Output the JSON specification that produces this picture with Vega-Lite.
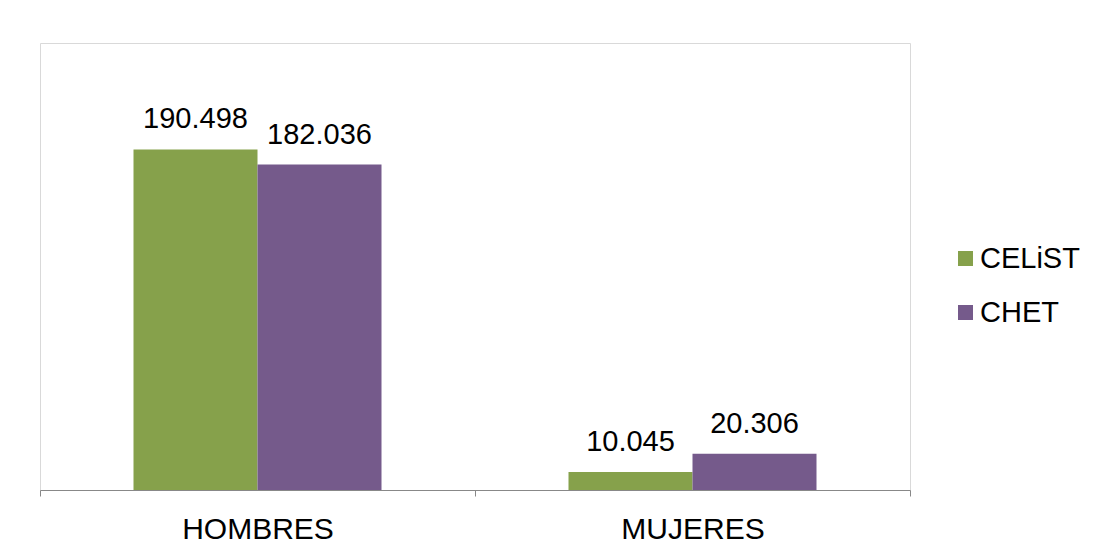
{
  "$schema": "https://vega.github.io/schema/vega-lite/v6.json",
  "width": 870,
  "height": 447,
  "autosize": {"type": "none"},
  "padding": {"left": 40, "top": 43, "right": 195, "bottom": 63},
  "background": "white",
  "config": {
    "locale": {"number": {"decimal": ",", "thousands": ".", "grouping": [3], "currency": ["", " €"]}},
    "view": {"stroke": "#d9d9d9", "strokeWidth": 1},
    "font": "Liberation Sans"
  },
  "data": {
    "values": [
      {"sexo": "HOMBRES", "serie": "CELiST", "valor": 190498},
      {"sexo": "HOMBRES", "serie": "CHET", "valor": 182036},
      {"sexo": "MUJERES", "serie": "CELiST", "valor": 10045},
      {"sexo": "MUJERES", "serie": "CHET", "valor": 20306}
    ]
  },
  "encoding": {
    "x": {
      "field": "sexo", "type": "nominal", "sort": ["HOMBRES", "MUJERES"],
      "scale": {"paddingInner": 0, "paddingOuter": 0},
      "axis": {
        "title": null, "labelAngle": 0, "labelFontSize": 30, "labelColor": "#000000",
        "labelFont": "Liberation Sans", "labelPadding": 18,
        "tickBand": "extent", "tickSize": 6, "tickColor": "#888888",
        "domainColor": "#888888", "grid": false
      }
    },
    "xOffset": {
      "field": "serie", "type": "nominal", "sort": ["CELiST", "CHET"],
      "scale": {"paddingInner": 0, "paddingOuter": 0.754}
    },
    "y": {
      "field": "valor", "type": "quantitative",
      "scale": {"domain": [0, 250000], "nice": false},
      "axis": null
    }
  },
  "layer": [
    {
      "mark": {"type": "bar"},
      "encoding": {
        "color": {
          "field": "serie", "type": "nominal", "sort": ["CELiST", "CHET"],
          "scale": {"domain": ["CELiST", "CHET"], "range": ["#86A14B", "#755A8B"]},
          "legend": {
            "title": null, "orient": "none", "legendX": 911, "legendY": 201,
            "symbolType": "square", "symbolSize": 225, "symbolStrokeWidth": 0,
            "labelFontSize": 29, "labelColor": "#000000", "labelFont": "Liberation Sans",
            "labelOffset": 0, "rowPadding": 24, "padding": 0
          }
        }
      }
    },
    {
      "mark": {"type": "text", "fontSize": 29, "baseline": "alphabetic", "dy": -21, "color": "#000000", "font": "Liberation Sans"},
      "encoding": {
        "text": {"field": "valor", "type": "quantitative", "format": ",d"}
      }
    }
  ]
}
